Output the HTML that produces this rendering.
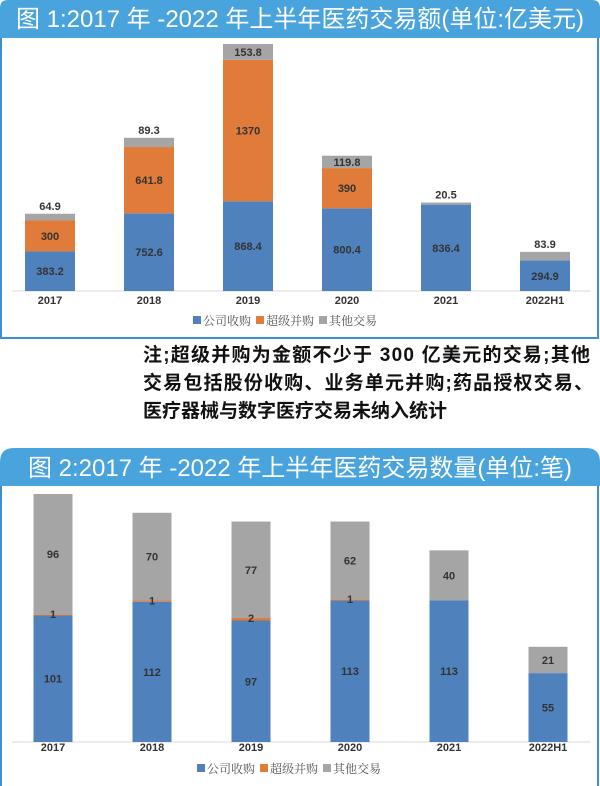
<!DOCTYPE html>
<html><head><meta charset="utf-8">
<style>
html,body{margin:0;padding:0;background:#fff;}
body{width:600px;height:786px;position:relative;overflow:hidden;font-family:"Liberation Sans","Noto Sans CJK SC",sans-serif;}
svg{position:absolute;left:0;top:0;}
</style></head>
<body>
<svg width="600" height="786" viewBox="0 0 600 786">
<g id="c1">
<rect x="1" y="34" width="597" height="304" fill="#fff" stroke="#3d8fd0" stroke-width="2"/>
<path d="M0 8 Q0 0 8 0 L592 0 Q600 0 600 8 L600 38 L0 38 Z" fill="#49a3dd"/>
<text x="300" y="27" text-anchor="middle" font-size="24" fill="#fff" font-family="'Liberation Sans','Noto Sans CJK SC',sans-serif">图 1:2017 年 -2022 年上半年医药交易额(单位:亿美元)</text>
<line x1="12" y1="291" x2="590" y2="291" stroke="#d9d9d9"/>
<g id="bars1"></g>
<g font-size="12" fill="#555" font-family="'Liberation Serif','Noto Serif CJK SC',serif">
<rect x="193" y="316" width="8" height="8" fill="#4f81bd"/><text x="203" y="325">公司收购</text>
<rect x="256" y="316" width="8" height="8" fill="#e07b39"/><text x="266" y="325">超级并购</text>
<rect x="319" y="316" width="8" height="8" fill="#a5a5a5"/><text x="329" y="325">其他交易</text>
</g>
</g>
<g font-size="19" fill="#111" font-weight="bold" font-family="'Liberation Sans','Noto Sans CJK SC',sans-serif">
<text x="143" y="361" textLength="447">注;超级并购为金额不少于 300 亿美元的交易;其他</text>
<text x="143" y="389" textLength="450">交易包括股份收购、业务单元并购;药品授权交易、</text>
<text x="143" y="417">医疗器械与数字医疗交易未纳入统计</text>
</g>
<g id="c2">
<rect x="1" y="480" width="597" height="310" fill="#fff" stroke="#3d8fd0" stroke-width="2"/>
<path d="M0 462 Q0 448 14 448 L586 448 Q600 448 600 462 L600 486 L0 486 Z" fill="#49a3dd"/>
<text x="300" y="476" text-anchor="middle" font-size="24" fill="#fff" font-family="'Liberation Sans','Noto Sans CJK SC',sans-serif">图 2:2017 年 -2022 年上半年医药交易数量(单位:笔)</text>
<line x1="12" y1="742" x2="590" y2="742" stroke="#d9d9d9"/>
<g id="bars2"></g>
<g font-size="12" fill="#555" font-family="'Liberation Serif','Noto Serif CJK SC',serif">
<rect x="197" y="764" width="8" height="8" fill="#4f81bd"/><text x="207" y="773">公司收购</text>
<rect x="260" y="764" width="8" height="8" fill="#e07b39"/><text x="270" y="773">超级并购</text>
<rect x="323" y="764" width="8" height="8" fill="#a5a5a5"/><text x="333" y="773">其他交易</text>
</g>
</g>
</svg>
<script>
const categories = ["2017","2018","2019","2020","2021","2022H1"];
const amtCompany = [383.2,752.6,868.4,800.4,836.4,294.9];
const amtMega = [300,641.8,1370,390,0,0];
const amtOther = [64.9,89.3,153.8,119.8,20.5,83.9];
const cntCompany = [101,112,97,113,113,55];
const cntMega = [1,1,2,1,0,0];
const cntOther = [96,70,77,62,40,21];
const COLORS = ["#4f81bd","#e07b39","#a5a5a5"];
const NS = "http://www.w3.org/2000/svg";
function mk(tag, attrs, parent){const e=document.createElementNS(NS,tag);for(const k in attrs)e.setAttribute(k,attrs[k]);parent.appendChild(e);return e;}
function draw(gid, series, base, top, maxV, x0, step, bw, labelY, small){
  const g=document.getElementById(gid);
  const gl=mk("g",{},g);
  const gt=mk("g",{},g);
  const y=v=>base-(v/maxV)*(base-top);
  categories.forEach((c,i)=>{
    const cx=x0+i*step;
    let acc=0;
    series.forEach((s,k)=>{
      const v=s[i]; if(v<=0)return;
      const y1=y(acc), y2=y(acc+v);
      const r=mk("rect",{x:cx-bw/2,y:y2,width:bw,height:y1-y2,fill:COLORS[k]},gl);
      
      
      let ty=(y1+y2)/2+4;
      if(k===1 && small) ty=y2+4;
      if(k===2 && !small && y1-y2<=12) ty=y2-4;
      const t=mk("text",{x:cx,y:ty,"text-anchor":"middle","font-size":"11","font-weight":"bold",fill:"#333"},gt);
      t.textContent=v;
      
      
      acc+=v;
    });
    const t=mk("text",{x:cx,y:labelY,"text-anchor":"middle","font-size":"11","font-weight":"bold",fill:"#333"},gt);
    t.textContent=c;
    
    
  });
}
draw("bars1",[amtCompany,amtMega,amtOther],291,44,2392.2,50,99,50,304,false);
draw("bars2",[cntCompany,cntMega,cntOther],742,494,198,53,99,39,751,true);
</script>
</body></html>
